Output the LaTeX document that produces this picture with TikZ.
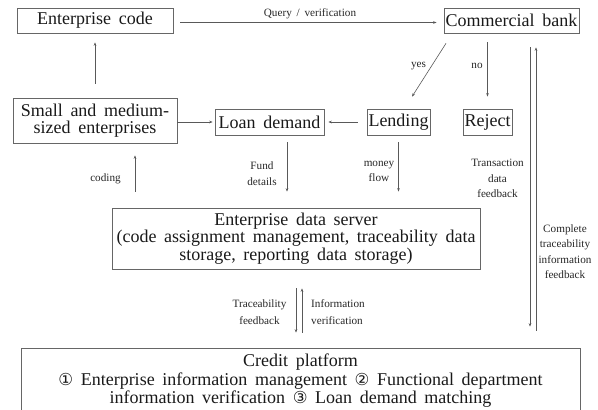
\documentclass[tikz,border=0pt]{standalone}
\usepackage{fontspec}
\setmainfont{Liberation Serif}[WordSpace={1.7,1,1}]
\newfontfamily\circfont{DejaVu Sans}
\usetikzlibrary{arrows.meta}
\newcommand{\cnum}[1]{{\circfont\fontsize{16.5}{18}\selectfont #1}}
\begin{document}
\begin{tikzpicture}[x=1pt,y=-1pt,
  box/.style={draw=black!60, line width=0.7pt, inner sep=0pt, align=center,
    text=black!90, font=\fontsize{18}{17.5}\selectfont},
  link/.style={draw=black!65, line width=0.6pt},
  arr/.style={link, -{Stealth[length=3.5pt,width=2.6pt]}},
  lab/.style={font=\fontsize{11.2}{15.5}\selectfont, text=black!85, inner sep=0pt, align=center}]
\useasboundingbox (0,0) rectangle (598,410);
\clip (0,0) rectangle (598,410);

% boxes
\node[box, minimum width=156pt, minimum height=25pt] (ec) at (95,20.5) {Enterprise code};
\node[box, minimum width=135pt, minimum height=25pt] (cb) at (511.5,20.5) {Commercial bank};
\node[box, minimum width=164pt, minimum height=45pt] (sme) at (95,120.5) {Small and medium-\\sized enterprises};
\node[box, minimum width=109pt, minimum height=26pt] (ld) at (269.5,122) {Loan demand};
\node[box, minimum width=63pt, minimum height=26pt] (lend) at (398.5,122) {Lending};
\node[box, minimum width=49pt, minimum height=26pt] (rej) at (487.5,122) {Reject};
\node[box, minimum width=368pt, minimum height=61pt] (eds) at (296,238.5)
  {Enterprise data server\\(code assignment management, traceability data\\storage, reporting data storage)};
\node[box, minimum width=559pt, minimum height=66pt, font=\fontsize{18}{18.5}\selectfont] (cp) at (300.5,381)
  {Credit platform\\\cnum{①} Enterprise information management \cnum{②} Functional department\\information verification \cnum{③} Loan demand matching};

% connectors
\draw[arr] ([shift={(7pt,-2pt)}]ec.east) -- ([shift={(-7pt,-2pt)}]cb.west);
\draw[arr, shorten <=14pt, shorten >=9pt] (sme.north) -- (ec.south);
\draw[arr, shorten >=2pt] (ld.west -| sme.east) -- (ld.west);
\draw[arr, shorten <=9pt, shorten >=4pt] (lend.west) -- (ld.east);
\draw[arr] ([shift={(-65.5pt,-10pt)}]cb.south) -- ([shift={(13.5pt,12pt)}]lend.north);
\draw[arr, shorten <=9pt, shorten >=12pt] (rej.north |- cb.south) -- (rej.north);
\draw[arr, shorten <=7pt, shorten >=16pt] ([xshift=17.5pt]ld.south) -- ([xshift=17.5pt]ld.south |- eds.north);
\draw[arr, shorten <=7pt, shorten >=16pt] (lend.south) -- (lend.south |- eds.north);
\draw[arr, shorten <=16pt, shorten >=12pt] ([xshift=40pt]sme.south |- eds.north) -- ([xshift=40pt]sme.south);
\draw[arr, shorten <=14pt, shorten >=21pt] ([xshift=18.5pt]cb.south) -- ([xshift=18.5pt]cb.south |- cp.north);
\draw[arr, shorten <=17pt, shorten >=14pt] ([xshift=24.5pt]cb.south |- cp.north) -- ([xshift=24.5pt]cb.south);
\draw[arr, shorten <=19pt, shorten >=15pt] (eds.south) -- (eds.south |- cp.north);
\draw[arr, shorten <=15pt, shorten >=19pt] ([xshift=6pt]eds.south |- cp.north) -- ([xshift=6pt]eds.south);

% labels
\node[lab] (lq) at (310,14) {Query / verification};
\node[lab] (lyes) at (418.5,66) {yes};
\node[lab] (lno) at (477,66) {no};
\node[lab] (lfund) at (262,173.5) {Fund\\details};
\node[lab] (lmoney) at (379,171.5) {money\\flow};
\node[lab] (lcode) at (105.5,179) {coding};
\node[lab] (ltrans) at (497.5,178.5) {Transaction\\data\\feedback};
\node[lab] (lcomp) at (565,251.5) {Complete\\traceability\\information\\feedback};
\node[lab, font=\fontsize{11.2}{17.5}\selectfont] (ltrace) at (259.5,312) {Traceability\\feedback};
\node[lab, font=\fontsize{11.2}{17.5}\selectfont, align=left, anchor=west] (linfo) at (311,312) {Information\\verification};
\end{tikzpicture}
\end{document}
